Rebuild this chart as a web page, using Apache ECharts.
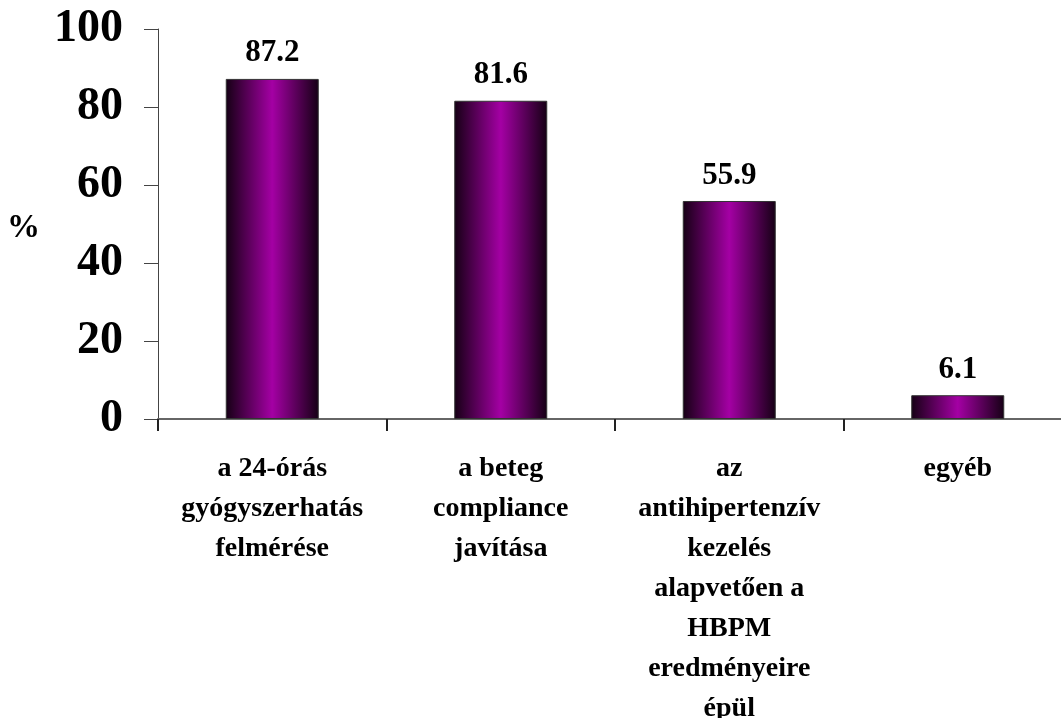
<!DOCTYPE html>
<html>
<head>
<meta charset="utf-8">
<script src="https://cdn.jsdelivr.net/npm/echarts@6/dist/echarts.min.js"></script>
<style>html,body{margin:0;padding:0;background:#fff;overflow:hidden;}#c{width:1072px;height:718px;}</style>
</head>
<body>
<div id="c"></div>
<script>
const categories = [
  "a 24-órás\ngyógyszerhatás\nfelmérése",
  "a beteg\ncompliance\njavítása",
  "az\nantihipertenzív\nkezelés\nalapvetően a\nHBPM\neredményeire\népül",
  "egyéb"
];
const values = [87.2, 81.6, 55.9, 6.1];
const yTicks = [0, 20, 40, 60, 80, 100];

const chart = echarts.init(document.getElementById('c'));
const serif = '"Liberation Serif", "Times New Roman", serif';
chart.setOption({
  backgroundColor: '#fff',
  animation: false,
  grid: { left: 158, top: 29, right: 0, height: 390, containLabel: false, outerBoundsMode: 'none' },
  xAxis: {
    type: 'category',
    data: categories,
    axisLine: { lineStyle: { color: '#666', width: 2 } },
    axisTick: { show: true, length: 12, lineStyle: { color: '#222', width: 2 } },
    axisLabel: {
      interval: 0, margin: 30,
      fontFamily: serif, fontWeight: 'bold', fontSize: 28, color: '#000',
      lineHeight: 40, align: 'center'
    }
  },
  yAxis: {
    type: 'value', min: 0, max: 100, interval: 20,
    name: '%', nameLocation: 'middle', nameRotate: 0, nameGap: 118,
    nameTextStyle: { fontFamily: serif, fontWeight: 'bold', fontSize: 33, color: '#000', verticalAlign: 'top', lineHeight: 8 },
    splitLine: { show: false },
    axisLine: { show: true, lineStyle: { color: '#444', width: 1 } },
    axisTick: { show: true, length: 14, lineStyle: { color: '#444', width: 1 } },
    axisLabel: {
      margin: 35, fontFamily: serif, fontWeight: 'bold', fontSize: 46, color: '#000',
      padding: [8, 0, 0, 0],
      formatter: v => yTicks.includes(v) ? String(v) : ''
    }
  },
  series: [{
    type: 'bar',
    data: values,
    barWidth: 93,
    itemStyle: {
      borderColor: '#333', borderWidth: 1,
      color: new echarts.graphic.LinearGradient(0, 0, 1, 0, [
        { offset: 0, color: '#150014' },
        { offset: 0.5, color: '#a400a4' },
        { offset: 1, color: '#150014' }
      ])
    },
    label: {
      show: true, position: 'top', distance: 10,
      fontFamily: serif, fontWeight: 'bold', fontSize: 31, color: '#000',
      formatter: p => p.value.toFixed(1)
    }
  }]
});
</script>
</body>
</html>
